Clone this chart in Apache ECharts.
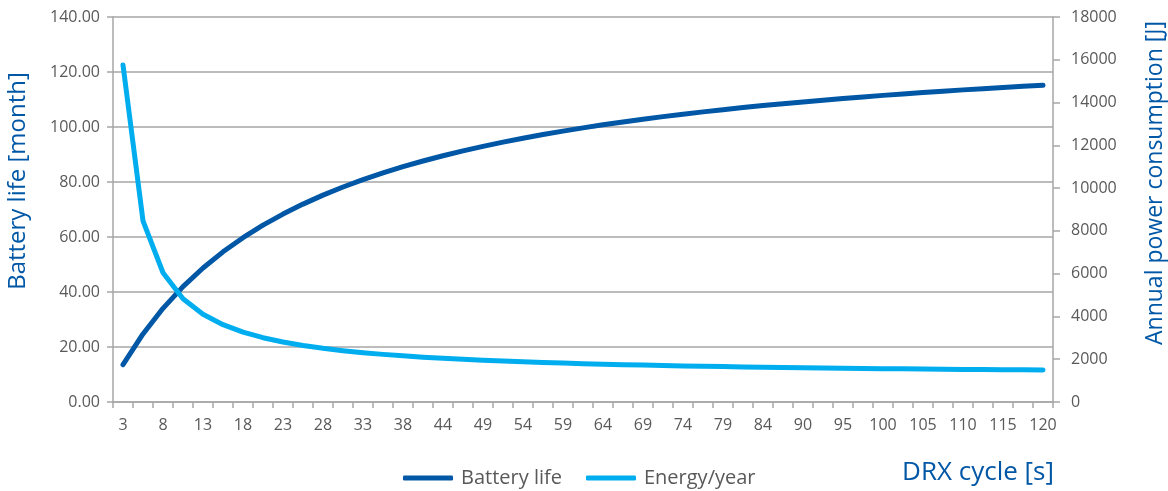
<!DOCTYPE html>
<html>
<head>
<meta charset="utf-8">
<script src="https://cdn.jsdelivr.net/npm/echarts@6/dist/echarts.min.js"></script>
<style>html,body{margin:0;padding:0;background:#fff;}#c{width:1168px;height:491px;}</style>
</head>
<body>
<div id="c"></div>
<script>
const categories = ["3","5","8","10","13","15","18","20","23","26","28","31","33","36","38","41","44","46","49","51","54","56","59","61","64","67","69","72","74","77","79","82","84","87","90","92","95","97","100","102","105","108","110","113","115","118","120"];
const batteryLife = [13.60,24.75,34.06,41.96,48.73,54.61,59.75,64.30,68.34,71.96,75.22,78.18,80.86,83.31,85.56,87.63,89.54,91.31,92.96,94.49,95.92,97.26,98.51,99.69,100.80,101.85,102.84,103.77,104.66,105.50,106.30,107.06,107.78,108.47,109.13,109.76,110.37,110.94,111.50,112.03,112.53,113.02,113.50,113.95,114.38,114.81,115.21];
const energyYear = [15755,8471,6042,4828,4100,3614,3267,3007,2805,2643,2510,2400,2307,2227,2157,2097,2043,1995,1953,1914,1880,1848,1819,1793,1769,1746,1726,1706,1688,1672,1656,1641,1627,1614,1602,1591,1580,1569,1560,1550,1541,1533,1525,1517,1510,1503,1496];
const seriesNames = ["Battery life","Energy/year"];
const leftTitle = "Battery life [month]";
const rightTitle = "Annual power consumption [J]";
const xTitle = "DRX cycle [s]";

const FONT = "Open Sans";
const GRAY = "#595959";
const AXIS = "#a6a6a6";
const DARK = "#0057a6";
const LIGHT = "#00aeef";

const chart = echarts.init(document.getElementById('c'));
chart.setOption({
  animation: false,
  textStyle: { fontFamily: FONT },
  grid: { left: 113, right: 115, top: 17, bottom: 89, containLabel: false },
  legend: {
    data: seriesNames,
    left: 398, top: 463,
    itemWidth: 50, itemHeight: 5, itemGap: 24,
    icon: 'roundRect',
    textStyle: { fontFamily: FONT, fontSize: 20, color: GRAY, padding: [0,0,0,3] }
  },
  xAxis: {
    type: 'category',
    data: categories,
    boundaryGap: true,
    axisLine: { lineStyle: { color: AXIS, width: 1.5 } },
    axisTick: { show: true, interval: 0, length: 6, lineStyle: { color: AXIS, width: 1.5 } },
    axisLabel: { interval: 1, fontSize: 16, color: GRAY, margin: 15, fontFamily: FONT }
  },
  yAxis: [
    {
      type: 'value', min: 0, max: 140, interval: 20, position: 'left',
      axisLine: { show: true, lineStyle: { color: AXIS, width: 1.5 } },
      axisTick: { show: true, length: 6, lineStyle: { color: AXIS, width: 1.5 } },
      axisLabel: { fontSize: 16, color: GRAY, margin: 13, fontFamily: FONT,
        formatter: v => v.toFixed(2) },
      splitLine: { show: true, lineStyle: { color: AXIS, width: 1.5 } }
    },
    {
      type: 'value', min: 0, max: 18000, interval: 2000, position: 'right',
      axisLine: { show: true, lineStyle: { color: AXIS, width: 1.5 } },
      axisTick: { show: true, length: 7, lineStyle: { color: AXIS, width: 1.5 } },
      axisLabel: { fontSize: 16, color: GRAY, margin: 18, fontFamily: FONT,
        formatter: v => String(v) },
      splitLine: { show: false }
    }
  ],
  series: [
    {
      name: seriesNames[0], type: 'line', yAxisIndex: 0, data: batteryLife,
      symbol: 'none', smooth: false, color: DARK,
      lineStyle: { color: DARK, width: 5, cap: 'round', join: 'round' }
    },
    {
      name: seriesNames[1], type: 'line', yAxisIndex: 1, data: energyYear,
      symbol: 'none', smooth: false, color: LIGHT,
      lineStyle: { color: LIGHT, width: 5, cap: 'round', join: 'round' }
    }
  ],
  graphic: [
    { type: 'text', x: 18, y: 181, rotation: Math.PI / 2,
      style: { text: leftTitle, fontFamily: FONT, fontSize: 24, fill: DARK, align: 'center', verticalAlign: 'middle' } },
    { type: 'text', x: 1155, y: 183, rotation: Math.PI / 2,
      style: { text: rightTitle, fontFamily: FONT, fontSize: 23, fill: DARK, align: 'center', verticalAlign: 'middle' } },
    { type: 'text', x: 978, y: 473,
      style: { text: xTitle, fontFamily: FONT, fontSize: 26, fill: DARK, align: 'center', verticalAlign: 'middle' } }
  ]
});
</script>
</body>
</html>
